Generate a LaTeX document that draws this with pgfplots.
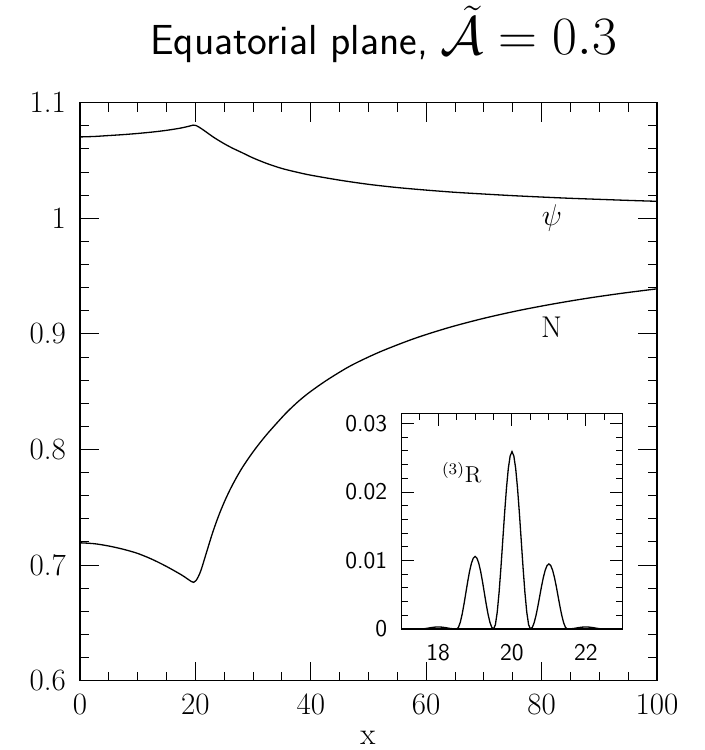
\RequirePackage{fix-cm}
\documentclass[border=0pt]{standalone}
\usepackage{pgfplots}
\pgfplotsset{compat=1.18}

\pgfplotstableread{
x y
0 1.0704
2.5 1.0708
5 1.0716
7.5 1.0724
10 1.0734
12.5 1.0746
15 1.0761
17.5 1.0781
19 1.0798
19.6 1.0806
20.1 1.0803
20.6 1.0790
21.5 1.0760
22.5 1.0724
23.5 1.0690
25 1.0645
26.5 1.0605
28 1.0570
30 1.0522
32.5 1.0472
35 1.0431
37.5 1.0400
40 1.0373
45 1.0330
50 1.0294
55 1.0266
60 1.0244
65 1.0225
70 1.0210
75 1.0196
80 1.0184
85 1.0173
90 1.0164
95 1.0155
100 1.0147
}\psidata

\pgfplotstableread{
x y
0 0.7193
2.5 0.7185
5 0.7165
7.5 0.7137
10 0.7101
12.5 0.7050
15 0.6988
17.5 0.6918
18.5 0.6885
19.3 0.6858
19.7 0.6851
20.1 0.6866
20.5 0.6900
21 0.6960
22 0.7122
23 0.7283
24 0.7423
25 0.7545
26 0.7652
27 0.7747
28 0.7833
29 0.7909
30 0.7980
31 0.8046
32.5 0.8138
34.5 0.8250
36 0.8330
38 0.8423
40 0.8503
43 0.8607
47 0.8727
52 0.8845
58 0.8961
64 0.9056
70 0.9135
76 0.9202
82 0.9259
88 0.9309
94 0.9352
100 0.9390
}\ndata

\pgfplotstableread{
x y
17.0 0
17.5 0
17.6 0.00003
17.7 0.0001
17.8 0.0002
17.9 0.00027
18.0 0.0003
18.1 0.00027
18.2 0.0002
18.3 0.0001
18.4 0.00003
18.5 0
18.55 0.00026
18.6 0.00101
18.65 0.00218
18.7 0.00366
18.75 0.0053
18.8 0.00694
18.85 0.00842
18.9 0.00959
18.95 0.01034
19.0 0.0106
19.05 0.01034
19.1 0.00959
19.15 0.00842
19.2 0.00694
19.25 0.0053
19.3 0.00366
19.35 0.00218
19.4 0.00101
19.45 0.00026
19.5 0
19.55 0.00063
19.6 0.00247
19.65 0.00534
19.7 0.00895
19.75 0.01295
19.8 0.01695
19.85 0.02056
19.9 0.02343
19.95 0.02527
20.0 0.0259
20.05 0.02527
20.1 0.02343
20.15 0.02056
20.2 0.01695
20.25 0.01295
20.3 0.00895
20.35 0.00534
20.4 0.00247
20.45 0.00063
20.5 0
20.55 0.00023
20.6 0.00091
20.65 0.00196
20.7 0.00328
20.75 0.00475
20.8 0.00622
20.85 0.00754
20.9 0.00859
20.95 0.00927
21.0 0.0095
21.05 0.00927
21.1 0.00859
21.15 0.00754
21.2 0.00622
21.25 0.00475
21.3 0.00328
21.35 0.00196
21.4 0.00091
21.45 0.00023
21.5 0
21.6 0.00003
21.7 0.0001
21.8 0.0002
21.9 0.00027
22.0 0.0003
22.1 0.00027
22.2 0.0002
22.3 0.0001
22.4 0.00003
22.5 0
23.0 0
}\rdata

\begin{document}
\begin{tikzpicture}
\path[use as bounding box] (-40pt,-34.65pt) rectangle (312.5pt,340.35pt);
\begin{axis}[
  at={(0pt,0pt)}, anchor=south west,
  width=288.5pt, height=289pt, scale only axis,
  xmin=0, xmax=100, ymin=0.6, ymax=1.1,
  xtick={0,20,40,60,80,100}, xticklabels={0,20,40,60,80,100},
  ytick={0.6,0.7,0.8,0.9,1,1.1}, yticklabels={0.6,0.7,0.8,0.9,1,1.1},
  minor x tick num=3, minor y tick num=4,
  tick align=inside, xtick pos=both, ytick pos=both,
  major tick length=9.5pt, minor tick length=4.5pt,
  tick style={black, line width=0.5pt},
  axis line style={line width=0.75pt},
  ticklabel style={font=\fontsize{15.5}{17}\selectfont},
  xticklabel style={yshift=-3pt},
  yticklabel style={xshift=-3.5pt},
  clip=false,
]
\addplot[black, line width=0.65pt, smooth, tension=0.5] table[x=x,y=y] {\psidata};
\addplot[black, line width=0.65pt, smooth, tension=0.5] table[x=x,y=y] {\ndata};
\node[font=\fontsize{15}{17}\selectfont] at (axis cs:81.8,1.0) {$\psi$};
\node[font=\fontsize{15}{17}\selectfont] at (axis cs:81.7,0.906) {N};
\end{axis}

\begin{axis}[
  at={(160.65pt,25.85pt)}, anchor=south west,
  width=110.7pt, height=107.85pt, scale only axis,
  xmin=17, xmax=23, ymin=0, ymax=0.0315,
  xtick={18,20,22}, xticklabels={18,20,22},
  minor xtick={17.5,18.5,19,19.5,20.5,21,21.5,22.5},
  ytick={0,0.01,0.02,0.03}, yticklabels={0,0.01,0.02,0.03},
  minor ytick={0.002,0.004,0.006,0.008,0.012,0.014,0.016,0.018,0.022,0.024,0.026,0.028},
  scaled y ticks=false, scaled x ticks=false,
  tick align=inside, xtick pos=right, xticklabel pos=left, ytick pos=both,
  major tick length=6.5pt, minor tick length=3.5pt,
  tick style={black, line width=0.5pt},
  axis line style={line width=0.7pt},
  ticklabel style={font=\sffamily\fontsize{12}{14}\selectfont},
  xticklabel style={yshift=-4pt},
  yticklabel style={xshift=-3.5pt},
]
\addplot[black, line width=0.65pt] table[x=x,y=y] {\rdata};
\node[font=\fontsize{11.5}{13}\selectfont] at (axis cs:18.64,0.0228) {$^{(3)}$R};
\end{axis}

\node[anchor=base] at (151.75pt,313pt) {\sffamily\fontsize{21}{25}\selectfont Equatorial plane,\hspace{0.3em}{\fontsize{27}{30}\selectfont$\tilde{\mathcal{A}} = 0.3$}};
\node[font=\fontsize{15.5}{17}\selectfont] at (144pt,-28.6pt) {x};
\end{tikzpicture}
\end{document}
